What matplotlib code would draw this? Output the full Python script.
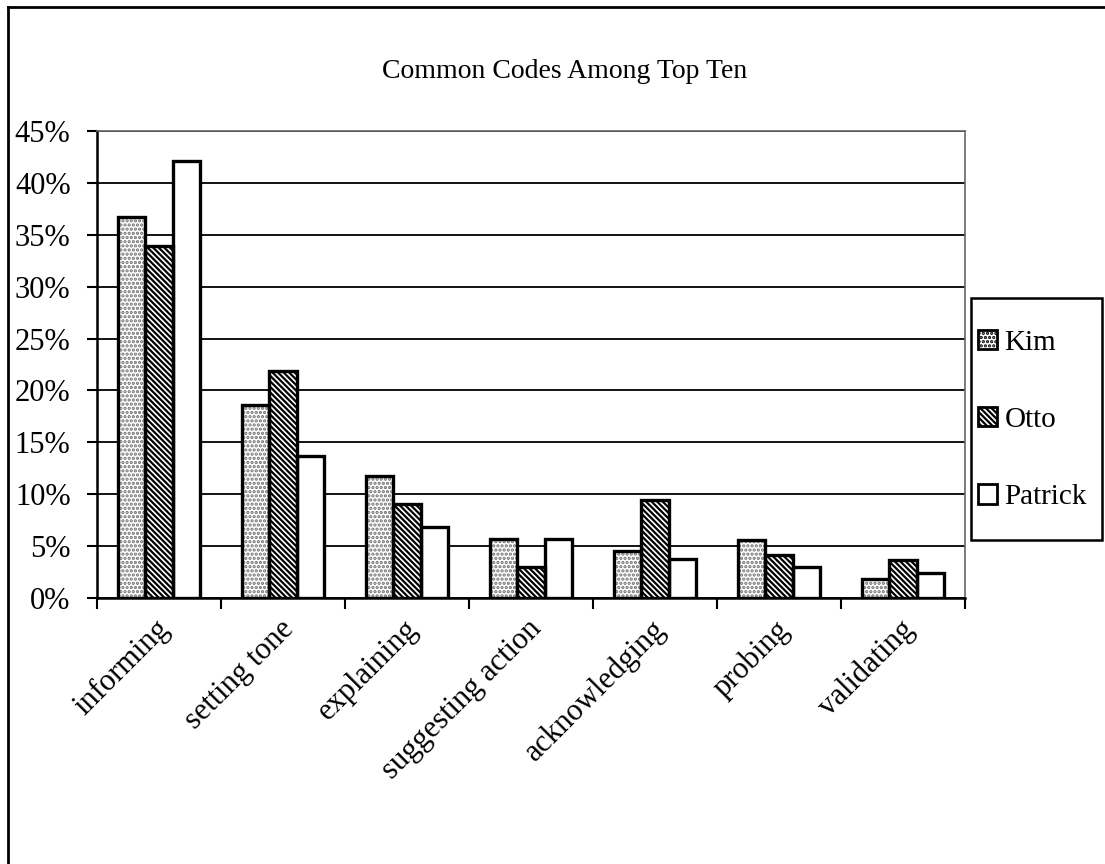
import numpy as np
import matplotlib
matplotlib.use("Agg")
import matplotlib.pyplot as plt
from matplotlib.patches import Rectangle
from matplotlib.lines import Line2D
from matplotlib.ticker import FuncFormatter
from matplotlib.transforms import ScaledTranslation

plt.rcParams['font.family'] = ['Liberation Serif', 'DejaVu Serif']
plt.rcParams['hatch.linewidth'] = 1.6

categories = ["informing", "setting tone", "explaining", "suggesting action",
              "acknowledging", "probing", "validating"]
kim = [36.7, 18.6, 11.8, 5.7, 4.5, 5.6, 1.8]
otto = [33.9, 21.9, 9.1, 3.0, 9.4, 4.1, 3.7]
patrick = [42.1, 13.7, 6.8, 5.7, 3.8, 3.0, 2.4]
series_names = ["Kim", "Otto", "Patrick"]
yticks = [0, 5, 10, 15, 20, 25, 30, 35, 40, 45]

W, H = 1105, 864
fig = plt.figure(figsize=(W / 100, H / 100), dpi=100)

# chart-area border (top and left edges)
fig.add_artist(Line2D([8 / W, 1], [1 - 7 / H, 1 - 7 / H], color='black', linewidth=2))
fig.add_artist(Line2D([8 / W, 8 / W], [0, 1 - 7 / H], color='black', linewidth=2))

left, right, top, bottom = 97, 965, 131, 598
ax = fig.add_axes([left / W, 1 - bottom / H, (right - left) / W, (bottom - top) / H])

x = np.arange(len(categories))
bw = 0.22
styles = [
    dict(facecolor='white', hatch='....', edgecolor='#707070'),
    dict(facecolor='white', hatch='\\\\\\\\\\\\', edgecolor='black'),
    dict(facecolor='white', hatch=None, edgecolor='black'),
]
handles = []
for i, (vals, st) in enumerate(zip([kim, otto, patrick], styles)):
    ax.bar(x + (i - 1) * bw, vals, width=bw, facecolor=st['facecolor'],
           hatch=st['hatch'], edgecolor=st['edgecolor'], linewidth=0, zorder=3)
    # black outline drawn on top of the hatch
    ax.bar(x + (i - 1) * bw, vals, width=bw, fill=False, edgecolor='black',
           linewidth=2.4, zorder=4)
    handles.append(Rectangle((0, 0), 1, 1, facecolor=st['facecolor'],
                             hatch=st['hatch'], edgecolor='black', linewidth=2))

ax.set_xlim(-0.5, len(categories) - 0.5)
ax.set_ylim(0, 45)
ax.set_yticks(yticks)
ax.yaxis.set_major_formatter(FuncFormatter(lambda v, p: f"{v:.0f}%"))
ax.grid(axis='y', color='black', linewidth=1.3, zorder=1)
ax.set_axisbelow(True)

# category boundaries carry the tick marks, labels sit under group centres
ax.set_xticks(np.arange(len(categories) + 1) - 0.5)
ax.set_xticklabels([])
ax.set_xticks(x, minor=True)
ax.set_xticklabels(categories, minor=True, rotation=45, ha='right',
                   rotation_mode='anchor', fontsize=22)
ax.tick_params(axis='x', which='minor', length=0, pad=12)
ax.tick_params(axis='x', which='major', length=8, width=1.5, direction='out')
ax.tick_params(axis='y', length=7, width=1.5, direction='out', labelsize=22, pad=12)
shift = ScaledTranslation(-0.04, 0, fig.dpi_scale_trans)
for lab in ax.get_xticklabels(minor=True):
    lab.set_transform(lab.get_transform() + shift)

for s in ['left', 'bottom']:
    ax.spines[s].set_linewidth(1.8)
    ax.spines[s].set_color('black')
for s in ['top', 'right']:
    ax.spines[s].set_linewidth(1.2)
    ax.spines[s].set_color('#666666')
    ax.spines[s].set_linestyle((0, (1, 1)))

fig.text(565 / W, 1 - 72 / H, "Common Codes Among Top Ten", ha='center',
         va='center', fontsize=20)

# legend box and entries
fig.patches.append(Rectangle((971 / W, 1 - 540 / H), 131 / W, 242 / H,
                             transform=fig.transFigure, facecolor='white',
                             edgecolor='black', linewidth=1.8, zorder=5))
leg = fig.legend(handles, series_names, loc='center left',
                 bbox_to_anchor=(978 / W, 1 - 420 / H), fontsize=21,
                 frameon=False, handlelength=0.65, handleheight=0.65,
                 handletextpad=0.25, labelspacing=1.75, borderpad=0,
                 borderaxespad=0)
leg.set_zorder(6)

fig.savefig("out.png", dpi=100)
